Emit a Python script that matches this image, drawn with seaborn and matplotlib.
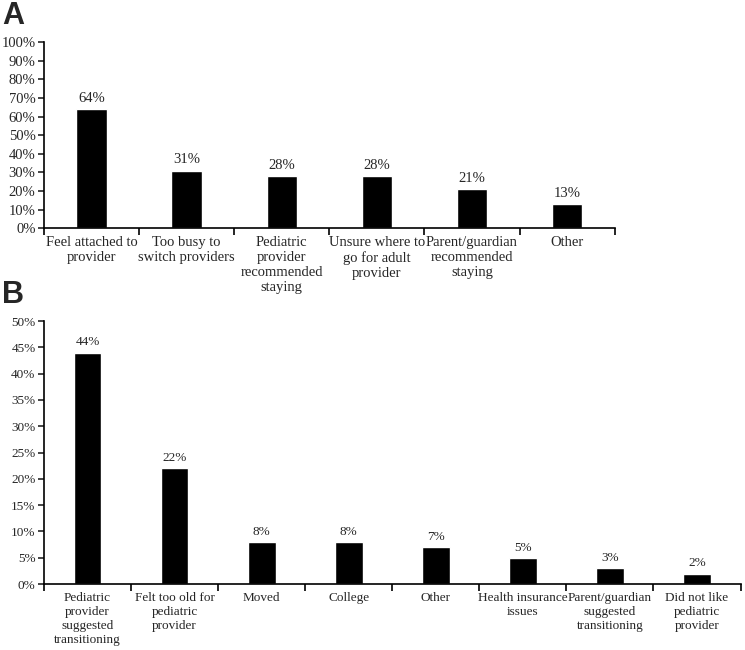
import matplotlib
matplotlib.use('Agg')
import matplotlib.pyplot as plt
from matplotlib.ticker import FixedLocator, PercentFormatter
import seaborn as sns

stay_reasons = ['Feel attached to\nprovider', 'Too busy to\nswitch providers',
                'Pediatric\nprovider\nrecommended\nstaying',
                'Unsure where to\ngo for adult\nprovider',
                'Parent/guardian\nrecommended\nstaying', 'Other']
stay_pct = [64, 31, 28, 28, 21, 13]

move_reasons = ['Pediatric\nprovider\nsuggested\ntransitioning',
                'Felt too old for\npediatric\nprovider', 'Moved', 'College',
                'Other', 'Health insurance\nissues',
                'Parent/guardian\nsuggested\ntransitioning',
                'Did not like\npediatric\nprovider']
move_pct = [44, 22, 8, 8, 7, 5, 3, 2]

sns.set_style('ticks')
plt.rcParams['font.family'] = ['Liberation Serif', 'DejaVu Serif']

fig = plt.figure(figsize=(7.45, 6.5), dpi=100)
ax_a = fig.add_axes([0.059, 0.649, 0.766, 0.286])
ax_b = fig.add_axes([0.059, 0.1015, 0.935, 0.4046])


def draw_panel(ax, labels, values, ymax, step, fsize):
    sns.barplot(x=labels, y=values, color='black', width=0.32,
                saturation=1, ax=ax)
    ax.bar_label(ax.containers[0], fmt='%d%%', padding=3, fontsize=fsize)
    n = len(labels)
    ax.set_xlim(-0.5, n - 0.5)
    ax.set_ylim(0, ymax)
    ax.set_yticks(range(0, ymax + 1, step))
    ax.yaxis.set_major_formatter(PercentFormatter(decimals=0))
    ax.xaxis.set_minor_locator(FixedLocator([i - 0.5 for i in range(n + 1)]))
    ax.tick_params(axis='x', which='major', length=0, pad=6, labelsize=fsize)
    ax.tick_params(axis='x', which='minor', length=5, width=1.2, color='black')
    ax.tick_params(axis='y', length=4, width=1.2, labelsize=fsize, pad=2)
    for side in ['top', 'right']:
        ax.spines[side].set_visible(False)
    for side in ['left', 'bottom']:
        ax.spines[side].set_linewidth(1.2)
        ax.spines[side].set_color('black')


draw_panel(ax_a, stay_reasons, stay_pct, 100, 10, 10.5)
draw_panel(ax_b, move_reasons, move_pct, 50, 5, 9.5)

fig.text(0.003, 0.975, 'A', fontsize=22, fontweight='bold',
         family='Liberation Sans', va='center')
fig.text(0.003, 0.546, 'B', fontsize=22, fontweight='bold',
         family='Liberation Sans', va='center')

fig.savefig('out.png', dpi=100)
